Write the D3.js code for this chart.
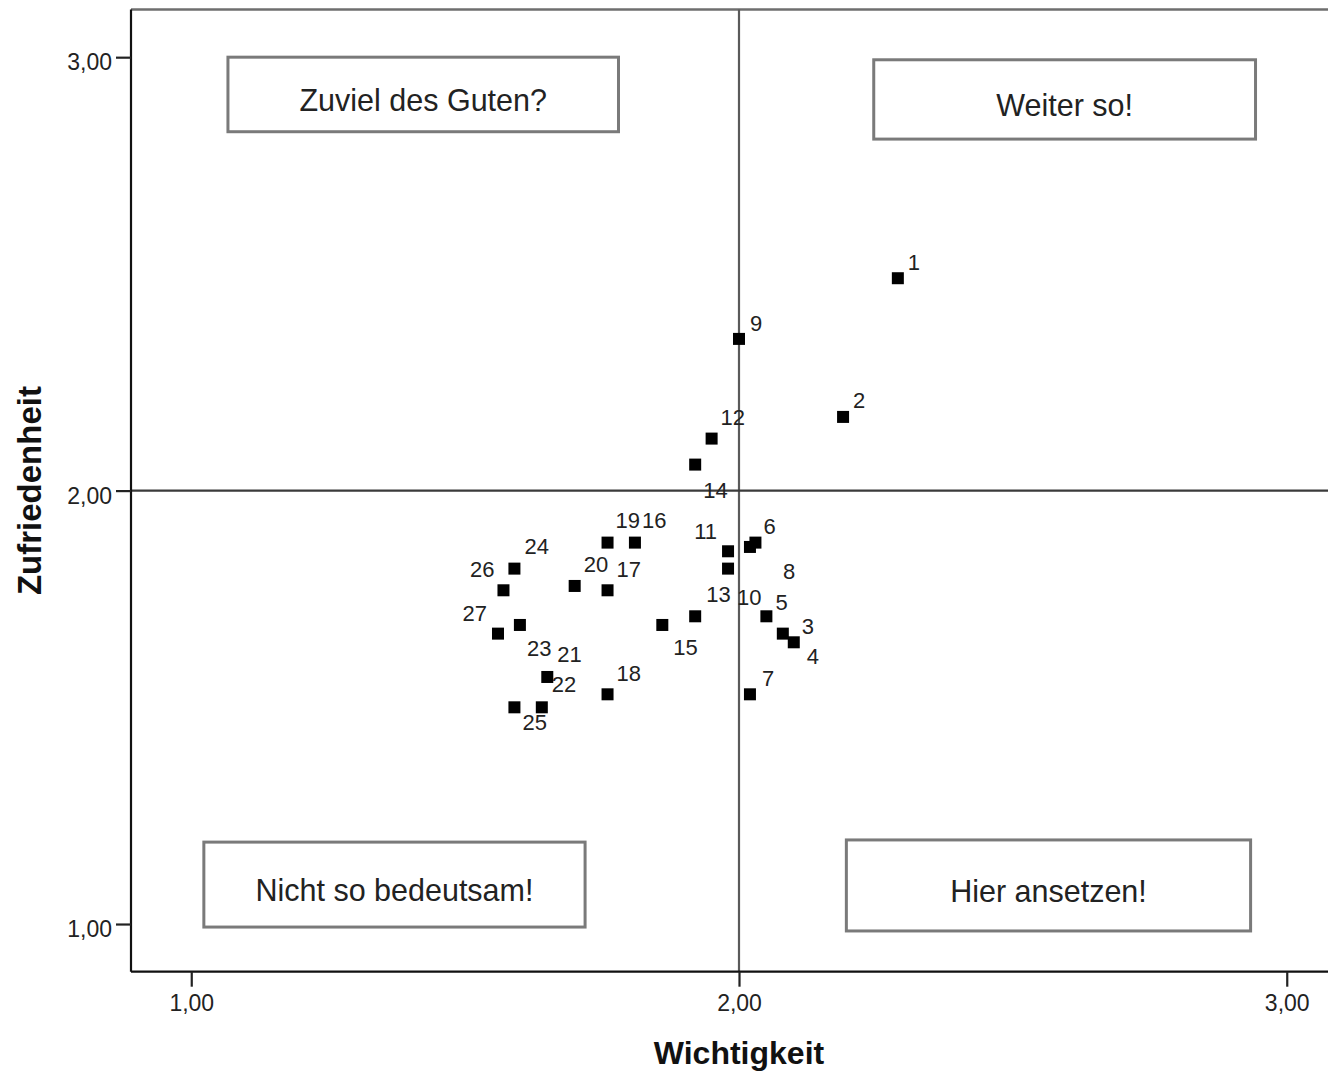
<!DOCTYPE html>
<html>
<head>
<meta charset="utf-8">
<script src="https://cdn.jsdelivr.net/npm/d3@7"></script>
<style>
  html, body { margin: 0; padding: 0; background: #fff; }
  svg { display: block; font-family: "Liberation Sans", Arial, sans-serif; }
</style>
</head>
<body>
<svg id="chart" width="1328" height="1071"></svg>
<script>
// Item numbers with their importance (Wichtigkeit) and satisfaction (Zufriedenheit) means
const itemIds = [1, 2, 3, 4, 5, 6, 7, 8, 9, 10, 11, 12, 13, 14, 15, 16, 17, 18, 19, 20, 21, 22, 23, 24, 25, 26, 27];
const wichtigkeit = [2.29, 2.19, 2.08, 2.10, 2.05, 2.03, 2.02, 2.02, 2.00, 1.98, 1.98, 1.95, 1.92, 1.92, 1.86, 1.81, 1.76, 1.76, 1.76, 1.70, 1.65, 1.64, 1.60, 1.59, 1.59, 1.57, 1.56];
const zufriedenheit = [2.49, 2.17, 1.67, 1.65, 1.71, 1.88, 1.53, 1.87, 2.35, 1.82, 1.86, 2.12, 1.71, 2.06, 1.69, 1.88, 1.77, 1.53, 1.88, 1.78, 1.57, 1.50, 1.69, 1.82, 1.50, 1.77, 1.67];

// Axis ticks and reference lines
const xTicks = [1, 2, 3];
const yTicks = [1, 2, 3];
const xReference = 2;
const yReference = 2;

// Quadrant captions: text and box extent in data units [x0, x1, y0, y1]
const quadrantText = ["Zuviel des Guten?", "Weiter so!", "Nicht so bedeutsam!", "Hier ansetzen!"];
const quadrantBox = [
  [1.067, 1.780, 2.828, 3.000],
  [2.246, 2.943, 2.811, 2.994],
  [1.023, 1.719, 0.993, 1.189],
  [2.196, 2.934, 0.984, 1.194]
];

const xTitle = "Wichtigkeit";
const yTitle = "Zufriedenheit";

// Label placement around each marker (pixels: dx, baseline dy, anchor)
const labelPlacement = {
  1: [10, -8, "start"], 2: [10, -9, "start"], 3: [19, 0, "start"], 4: [13, 22, "start"],
  5: [9, -6, "start"], 6: [8, -9, "start"], 7: [12, -8, "start"], 8: [33, 32, "start"],
  9: [11, -8, "start"], 10: [9, 36, "start"], 11: [-11, -12, "end"], 12: [9, -14, "start"],
  13: [11, -14, "start"], 14: [8, 33, "start"], 15: [11, 30, "start"], 16: [7, -15, "start"],
  17: [9, -13, "start"], 18: [9, -13, "start"], 19: [8, -15, "start"], 20: [9, -14, "start"],
  21: [10, -15, "start"], 22: [10, -15, "start"], 23: [7, 31, "start"], 24: [10, -15, "start"],
  25: [8, 23, "start"], 26: [-9, -13, "end"], 27: [-11, -13, "end"]
};

const points = itemIds.map((id, i) => ({ id, x: wichtigkeit[i], y: zufriedenheit[i] }));

const plot = { left: 131, right: 1347, top: 9.5, bottom: 971.7 };
const x = d3.scaleLinear().domain([0.89, 3.11]).range([plot.left, plot.right]);
const y = d3.scaleLinear().domain([0.89, 3.11]).range([plot.bottom, plot.top]);

const svg = d3.select("#chart");
const fmt = v => d3.format(".2f")(v).replace(".", ",");

// Plot frame top edge
svg.append("line")
  .attr("x1", plot.left).attr("x2", plot.right)
  .attr("y1", plot.top).attr("y2", plot.top)
  .attr("stroke", "#6e6e6e").attr("stroke-width", 2.5);

// Reference lines
svg.append("line")
  .attr("x1", x(xReference)).attr("x2", x(xReference))
  .attr("y1", plot.top).attr("y2", plot.bottom)
  .attr("stroke", "#5a5a5a").attr("stroke-width", 2.2);
svg.append("line")
  .attr("x1", plot.left).attr("x2", plot.right)
  .attr("y1", y(yReference)).attr("y2", y(yReference))
  .attr("stroke", "#3a3a3a").attr("stroke-width", 2.2);

// Quadrant caption boxes
const boxes = svg.append("g");
quadrantText.forEach((t, i) => {
  const [x0, x1, y0, y1] = quadrantBox[i];
  boxes.append("rect")
    .attr("x", x(x0)).attr("y", y(y1))
    .attr("width", x(x1) - x(x0)).attr("height", y(y0) - y(y1))
    .attr("fill", "#fff").attr("stroke", "#7a7a7a").attr("stroke-width", 3);
  boxes.append("text")
    .attr("x", (x(x0) + x(x1)) / 2)
    .attr("y", (y(y0) + y(y1)) / 2)
    .attr("dy", "0.55em")
    .attr("text-anchor", "middle")
    .attr("font-size", 30.5)
    .attr("fill", "#222")
    .text(t);
});

// Axes
const xAxis = d3.axisBottom(x).tickValues(xTicks).tickFormat(fmt).tickSize(15).tickSizeOuter(0);
const yAxis = d3.axisLeft(y).tickValues(yTicks).tickFormat(fmt).tickSize(15).tickSizeOuter(0);

const gx = svg.append("g").attr("transform", `translate(0,${plot.bottom})`).call(xAxis);
const gy = svg.append("g").attr("transform", `translate(${plot.left},0)`).call(yAxis);
[gx, gy].forEach(g => {
  g.select(".domain").attr("stroke", "#111").attr("stroke-width", 2.2);
  g.selectAll(".tick line").attr("stroke", "#222").attr("stroke-width", 2.2);
  g.selectAll(".tick text").attr("font-size", 23).attr("fill", "#222")
    .attr("font-family", "'Liberation Sans', Arial, sans-serif");
});
gx.select(".domain").attr("d", `M${plot.left},0H${plot.right}`);
gy.select(".domain").attr("d", `M0,${plot.bottom}V${plot.top}`);
gx.selectAll(".tick text").attr("y", 23).attr("dy", "0.71em");
gy.selectAll(".tick text").attr("x", -19).attr("dy", "0.55em");

// Axis titles
svg.append("text")
  .attr("x", (plot.left + plot.right) / 2).attr("y", 1064)
  .attr("text-anchor", "middle").attr("font-weight", "bold")
  .attr("font-size", 32).attr("fill", "#111")
  .text(xTitle);
svg.append("text")
  .attr("transform", `translate(41,${(plot.top + plot.bottom) / 2}) rotate(-90)`)
  .attr("text-anchor", "middle").attr("font-weight", "bold")
  .attr("font-size", 33).attr("fill", "#111")
  .text(yTitle);

// Markers
const size = 12;
svg.append("g").selectAll("rect").data(points).join("rect")
  .attr("x", d => x(d.x) - size / 2)
  .attr("y", d => y(d.y) - size / 2)
  .attr("width", size).attr("height", size)
  .attr("fill", "#000");

// Point labels
svg.append("g").selectAll("text").data(points).join("text")
  .attr("x", d => x(d.x) + labelPlacement[d.id][0])
  .attr("y", d => y(d.y) + labelPlacement[d.id][1])
  .attr("text-anchor", d => labelPlacement[d.id][2])
  .attr("font-size", 22).attr("fill", "#222")
  .text(d => d.id);
</script>
</body>
</html>
